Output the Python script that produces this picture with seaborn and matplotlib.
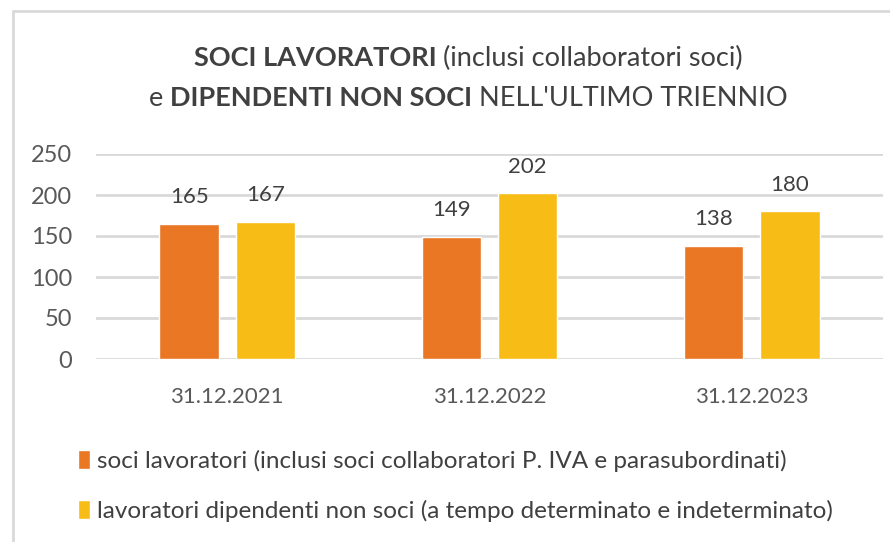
import numpy as np
import pandas as pd
import matplotlib
matplotlib.use("Agg")
import matplotlib.pyplot as plt
import seaborn as sns
from matplotlib.patches import Rectangle, Patch

# dati
anni = ['31.12.2021', '31.12.2022', '31.12.2023']
soci = [165, 149, 138]
dipendenti = [167, 202, 180]
serie = ['soci lavoratori (inclusi soci collaboratori P. IVA e parasubordinati)',
         'lavoratori dipendenti non soci (a tempo determinato e indeterminato)']
colori = ['#EA7724', '#F8BC17']
y_ticks = [0, 50, 100, 150, 200, 250]

df = pd.DataFrame({
    'anno': anni * 2,
    'valore': soci + dipendenti,
    'serie': [serie[0]] * 3 + [serie[1]] * 3,
})

sns.set_theme(style='white')
plt.rcParams['font.family'] = ['Lato', 'DejaVu Sans']
testo = '#404040'

fig = plt.figure(figsize=(8.9, 5.42), dpi=100)
ax = fig.add_axes([96 / 890, 1 - 359 / 542, (883 - 96) / 890, (359 - 154) / 542])

sns.barplot(data=df, x='anno', y='valore', hue='serie', palette=colori,
            saturation=1, width=0.58, gap=0.22, ax=ax, legend=False, zorder=3)

ax.set_ylim(0, 250)
ax.set_yticks(y_ticks)
ax.set_xlim(-0.5, 2.5)
ax.grid(axis='y', color='#D9D9D9', linewidth=2, zorder=0)
for s in ax.spines.values():
    s.set_visible(False)
ax.set_xlabel('')
ax.set_ylabel('')
ax.tick_params(axis='y', length=0, pad=17, labelsize=17, labelcolor='#595959')
ax.tick_params(axis='x', length=0, pad=20, labelsize=16, labelcolor='#595959')

for c in ax.containers:
    ax.bar_label(c, padding=12, fontsize=16, color=testo)

# titolo con parti in grassetto
renderer = fig.canvas.get_renderer()
def riga(parti, y):
    pezzi = []
    for t, w in parti:
        tx = fig.text(0, y, t, fontsize=19.5, fontweight=w, color=testo, va='center')
        pezzi.append(tx)
    larg = [p.get_window_extent(renderer).width for p in pezzi]
    x = 468 - sum(larg) / 2
    for p, l in zip(pezzi, larg):
        p.set_x(x / 890)
        x += l

riga([('SOCI LAVORATORI ', 'bold'), ('(inclusi collaboratori soci)', 'normal')], 1 - 58 / 542)
riga([('e ', 'normal'), ('DIPENDENTI NON SOCI ', 'bold'), ("NELL'ULTIMO TRIENNIO", 'normal')], 1 - 98 / 542)

# legenda
maniglie = [Patch(facecolor=colori[0]), Patch(facecolor=colori[1])]
fig.legend(maniglie, serie, loc='upper left', bbox_to_anchor=(56 / 890, 1 - 428 / 542),
           frameon=False, ncol=1, fontsize=17.5, labelcolor=testo,
           handlelength=0.5, handleheight=0.8, handletextpad=0.3, labelspacing=1.15)

# cornice
fig.patches.append(Rectangle((13 / 890, -0.1), 1.2, 1 - 11 / 542 + 0.1,
                             transform=fig.transFigure, fill=False,
                             edgecolor='#D9D9D9', linewidth=2))

fig.savefig('out.png', dpi=100)
